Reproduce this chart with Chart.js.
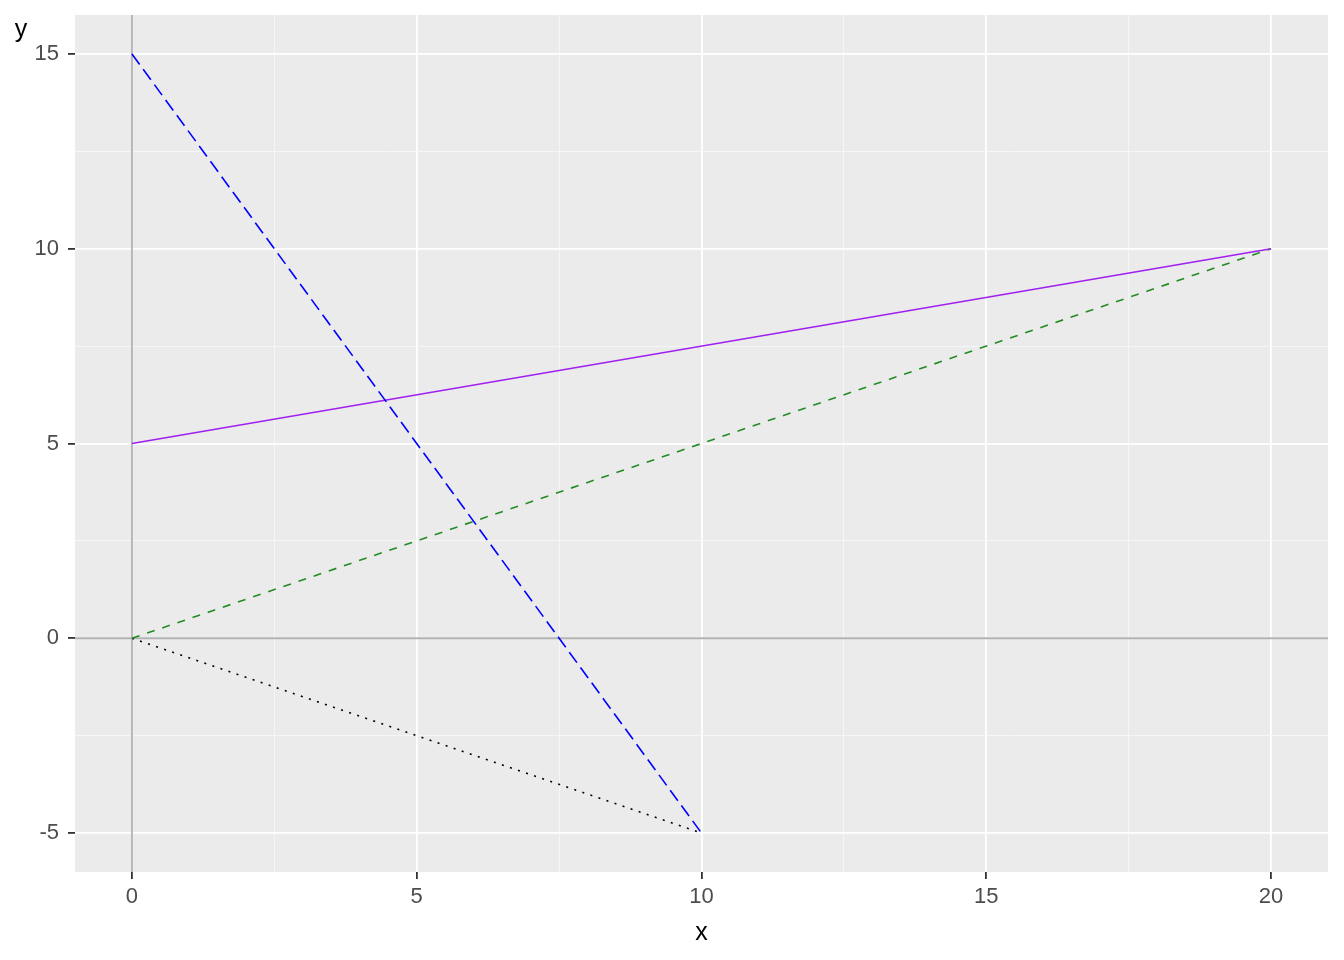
<!DOCTYPE html>
<html>
<head>
<meta charset="utf-8">
<script src="https://cdn.jsdelivr.net/npm/chart.js@4"></script>
<style>
    html, body { margin: 0; padding: 0; background: #fff; }
    #wrap { width: 1344px; height: 960px; }
</style>
</head>
<body>
<div id="wrap"><canvas id="segChart" width="1344" height="960"></canvas></div>
<script>
/* ======================================================
   DATA
====================================================== */
const blueX = [0, 10];
const blueY = [15, -5];
const purpleX = [0, 20];
const purpleY = [5, 10];
const greenX = [0, 20];
const greenY = [0, 10];
const blackX = [0, 10];
const blackY = [0, -5];

const xLimits = [-1, 21];
const yLimits = [-6, 16];
const xMajor = [0, 5, 10, 15, 20];
const xMinor = [2.5, 7.5, 12.5, 17.5];
const yMajor = [-5, 0, 5, 10, 15];
const yMinor = [-2.5, 2.5, 7.5, 12.5];

const FONT = '"Liberation Sans", Arial, sans-serif';

function pts(xs, ys) {
    return xs.map((x, i) => ({ x: x, y: ys[i] }));
}

/* ======================================================
   PLUGINS
====================================================== */
const panelBg = {
    id: 'panelBg',
    beforeDraw(chart) {
        const a = chart.chartArea;
        const ctx = chart.ctx;
        ctx.save();
        ctx.fillStyle = '#ebebeb';
        ctx.fillRect(a.left, a.top, a.right - a.left, a.bottom - a.top);
        ctx.restore();
    }
};

const yTitle = {
    id: 'yTitle',
    afterDraw(chart) {
        const a = chart.chartArea;
        const ctx = chart.ctx;
        ctx.save();
        ctx.fillStyle = '#000';
        ctx.font = '25px ' + FONT;
        ctx.textAlign = 'center';
        ctx.textBaseline = 'alphabetic';
        ctx.fillText('y', a.left - 54, a.top + 22);
        ctx.restore();
    }
};

function gridStyle(majors) {
    return {
        color: c => majors.includes(c.tick.value) ? '#ffffff' : '#f7f7f7',
        lineWidth: c => majors.includes(c.tick.value) ? 1.8 : 0.9,
        tickColor: c => majors.includes(c.tick.value) ? '#333333' : 'rgba(0,0,0,0)',
        tickLength: 7,
        tickWidth: 1.8,
        drawOnChartArea: true
    };
}

/* ======================================================
   CHART
====================================================== */
const ctx = document.getElementById('segChart').getContext('2d');

new Chart(ctx, {
    type: 'scatter',
    data: {
        datasets: [
            {
                data: pts(blueX, blueY),
                borderColor: '#0000ff',
                borderWidth: 1.6,
                borderDash: [13, 6],
                showLine: true,
                pointRadius: 0,
                order: 1
            },
            {
                data: pts(purpleX, purpleY),
                borderColor: '#a020f0',
                borderWidth: 1.6,
                showLine: true,
                pointRadius: 0,
                order: 2
            },
            {
                data: pts(greenX, greenY),
                borderColor: '#228b22',
                borderWidth: 1.6,
                borderDash: [8, 8],
                showLine: true,
                pointRadius: 0,
                order: 3
            },
            {
                data: pts(blackX, blackY),
                borderColor: '#000000',
                borderWidth: 1.6,
                borderDash: [2, 6.5],
                showLine: true,
                pointRadius: 0,
                order: 4
            },
            // reference lines at x = 0 and y = 0
            {
                data: pts([0, 0], yLimits),
                borderColor: '#b2b2b2',
                borderWidth: 1.8,
                showLine: true,
                pointRadius: 0,
                order: 10
            },
            {
                data: pts(xLimits, [0, 0]),
                borderColor: '#b2b2b2',
                borderWidth: 1.8,
                showLine: true,
                pointRadius: 0,
                order: 11
            }
        ]
    },
    options: {
        responsive: false,
        animation: false,
        devicePixelRatio: 1,
        layout: { padding: { top: 15, right: 16, left: 0, bottom: 0 } },
        plugins: {
            legend: { display: false },
            tooltip: { enabled: false }
        },
        scales: {
            x: {
                type: 'linear',
                min: xLimits[0],
                max: xLimits[1],
                border: { display: false },
                grid: gridStyle(xMajor),
                afterBuildTicks: s => {
                    s.ticks = xMajor.concat(xMinor).sort((a, b) => a - b)
                        .map(v => ({ value: v }));
                },
                afterFit: s => {
                    s.height = 88;
                    s.paddingLeft = 0;
                    s.paddingRight = 0;
                },
                ticks: {
                    autoSkip: false,
                    maxRotation: 0,
                    padding: 5,
                    color: '#4d4d4d',
                    font: { family: FONT, size: 22 },
                    callback: v => xMajor.includes(v) ? String(v) : ''
                },
                title: {
                    display: true,
                    text: 'x',
                    color: '#000',
                    font: { family: FONT, size: 25 },
                    padding: { top: 0, bottom: 12 }
                }
            },
            y: {
                type: 'linear',
                min: yLimits[0],
                max: yLimits[1],
                border: { display: false },
                grid: gridStyle(yMajor),
                afterBuildTicks: s => {
                    s.ticks = yMajor.concat(yMinor).sort((a, b) => a - b)
                        .map(v => ({ value: v }));
                },
                afterFit: s => {
                    s.width = 75;
                    s.paddingTop = 0;
                    s.paddingBottom = 0;
                },
                ticks: {
                    autoSkip: false,
                    padding: 9,
                    color: '#4d4d4d',
                    font: { family: FONT, size: 22 },
                    callback: v => yMajor.includes(v) ? String(v) : ''
                }
            }
        }
    },
    plugins: [panelBg, yTitle]
});
</script>
</body>
</html>
